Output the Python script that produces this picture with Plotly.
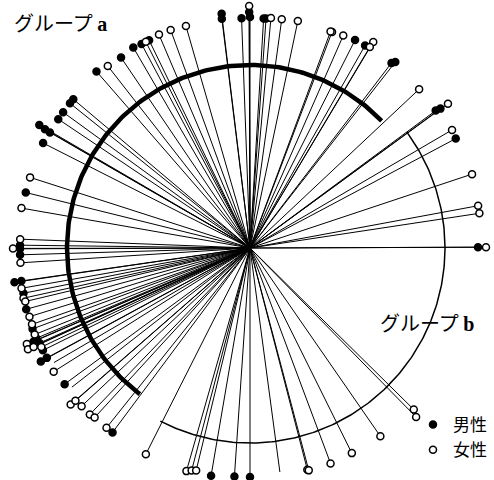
import math
import plotly.graph_objects as go

# Each ray: direction (degrees, counter-clockwise from east), length, sex ("m" male, "f" female, "" no marker)
angle = [0.2, 0.2, 8.6, 10.5, 18.4, 28.0, 30.3, 36.5, 36.2, 36.1, 43.2, 52.6, 52.0,
         59.1, 59.2, 60.4, 63.2, 66.3, 69.2, 69.6, 78.1, 82.1, 84.8, 86.0, 86.6,
         90.2, 90.2, 90.0, 92.1, 96.9, 97.0, 106.1, 110.0, 113.1, 115.9, 116.8, 118.0,
         120.2, 124.1, 128.0, 131.0, 139.9, 141.2, 144.0, 146.1, 149.7, 149.9, 150.0,
         153.1, 162.2, 166.1, 170.1, 177.8, 179.3, 180.1, 180.2, 181.7, 183.7, 188.3,
         188.2, 190.0, 191.3, 192.5, 193.4, 195.3, 197.3, 199.3, 200.4, 201.9, 202.9,
         203.4, 203.3, 204.5, 204.6, 204.3, 205.4, 206.3, 208.4, 208.5, 210.3, 212.2,
         216.3, 218.0, 221.1, 221.2, 223.2, 226.1, 227.5, 231.4, 233.3, 243.2, 254.1,
         255.3, 256.4, 260.3, 266.1, 270.0, 277.6, 284.5, 284.8, 290.5, 296.4, 304.7,
         315.4, 314.5]
length = [228, 236, 232, 232, 234, 233, 234, 231, 236, 245, 232, 233, 236,
          240, 234, 233, 233, 232, 231, 231, 232, 231, 231, 230, 230,
          242, 236, 231, 230, 236, 231, 231, 232, 232, 231, 231, 231,
          232, 230, 231, 234, 231, 231, 231, 231, 244, 237, 231,
          232, 231, 231, 232, 230, 230, 237, 230, 230, 230, 238,
          231, 232, 231, 232, 231, 232, 231, 231, 232, 232, 232,
          236, 243, 244, 238, 231, 231, 231, 231, 238, 227, 232,
          230, 226, 238, 232, 231, 231, 230, 230, 230, 231, 232,
          230, 229, 231, 229, 229, 226, 229, 230, 230, 229, 229,
          230, 237]
sex = ["m", "f", "f", "f", "f", "m", "f", "m", "m", "f", "f", "m", "m",
       "f", "f", "m", "m", "f", "f", "f", "f", "f", "f", "m", "m",
       "f", "m", "m", "m", "m", "m", "f", "f", "f", "m", "f", "m",
       "m", "m", "f", "m", "m", "m", "m", "m", "m", "m", "m",
       "m", "f", "m", "f", "f", "m", "f", "m", "m", "f", "m",
       "m", "f", "m", "f", "f", "m", "f", "f", "m", "f", "m",
       "m", "f", "f", "f", "m", "f", "m", "m", "m", "", "f",
       "m", "", "f", "f", "f", "f", "f", "f", "m", "f", "f",
       "f", "f", "m", "m", "m", "", "f", "f", "f", "f", "f",
       "f", "f"]

# Group arcs: (start angle, end angle, radius)
arc_a = (44.0, 233.0, 183)
arc_b = (242.6, 396.5, 195)

labels = {"m": "男性", "f": "女性"}

def pol(a, r):
    t = math.radians(a)
    return r * math.cos(t), r * math.sin(t)

fig = go.Figure()

lx, ly = [], []
for a, r in zip(angle, length):
    x, y = pol(a, r)
    lx += [0, x, None]
    ly += [0, y, None]
fig.add_trace(go.Scatter(x=lx, y=ly, mode="lines", line=dict(color="black", width=1),
                         showlegend=False, hoverinfo="skip"))

def arc(a0, a1, r, w):
    n = 200
    xs, ys = [], []
    for i in range(n + 1):
        x, y = pol(a0 + (a1 - a0) * i / n, r)
        xs.append(x)
        ys.append(y)
    fig.add_trace(go.Scatter(x=xs, y=ys, mode="lines", line=dict(color="black", width=w),
                             showlegend=False, hoverinfo="skip"))

arc(arc_a[0], arc_a[1], arc_a[2], 4.5)
arc(arc_b[0], arc_b[1], arc_b[2], 1.5)

for code, fill in (("m", "black"), ("f", "white")):
    xs, ys = [], []
    for a, r, s in zip(angle, length, sex):
        if s == code:
            x, y = pol(a, r)
            xs.append(x)
            ys.append(y)
    fig.add_trace(go.Scatter(x=xs, y=ys, mode="markers", name=labels[code],
                             marker=dict(size=7, color=fill, line=dict(color="black", width=1.5)),
                             cliponaxis=False))

jp = "Noto Sans CJK JP"
fig.add_annotation(x=-238, y=226, xanchor="left", yanchor="middle", showarrow=False,
                   text="グループ <span style='font-family:Liberation Serif'><b>a</b></span>",
                   font=dict(family=jp, size=20, color="black"))
fig.add_annotation(x=128, y=-74, xanchor="left", yanchor="middle", showarrow=False,
                   text="グループ <span style='font-family:Liberation Serif'><b>b</b></span>",
                   font=dict(family=jp, size=20, color="black"))

fig.update_layout(
    width=494, height=480,
    margin=dict(l=0, r=0, t=0, b=0, autoexpand=False),
    paper_bgcolor="white", plot_bgcolor="white",
    xaxis=dict(range=[-250, 244], visible=False, fixedrange=True),
    yaxis=dict(range=[-232, 248], visible=False, fixedrange=True),
    showlegend=True,
    legend=dict(x=0.836, y=0.152, xanchor="left", yanchor="top",
                font=dict(family=jp, size=17, color="black"),
                bgcolor="rgba(0,0,0,0)", tracegroupgap=0, itemwidth=30),
)

fig.write_html("out.html", config={"displayModeBar": False},
               post_script="document.body.style.margin='0';document.body.style.overflow='hidden';")
